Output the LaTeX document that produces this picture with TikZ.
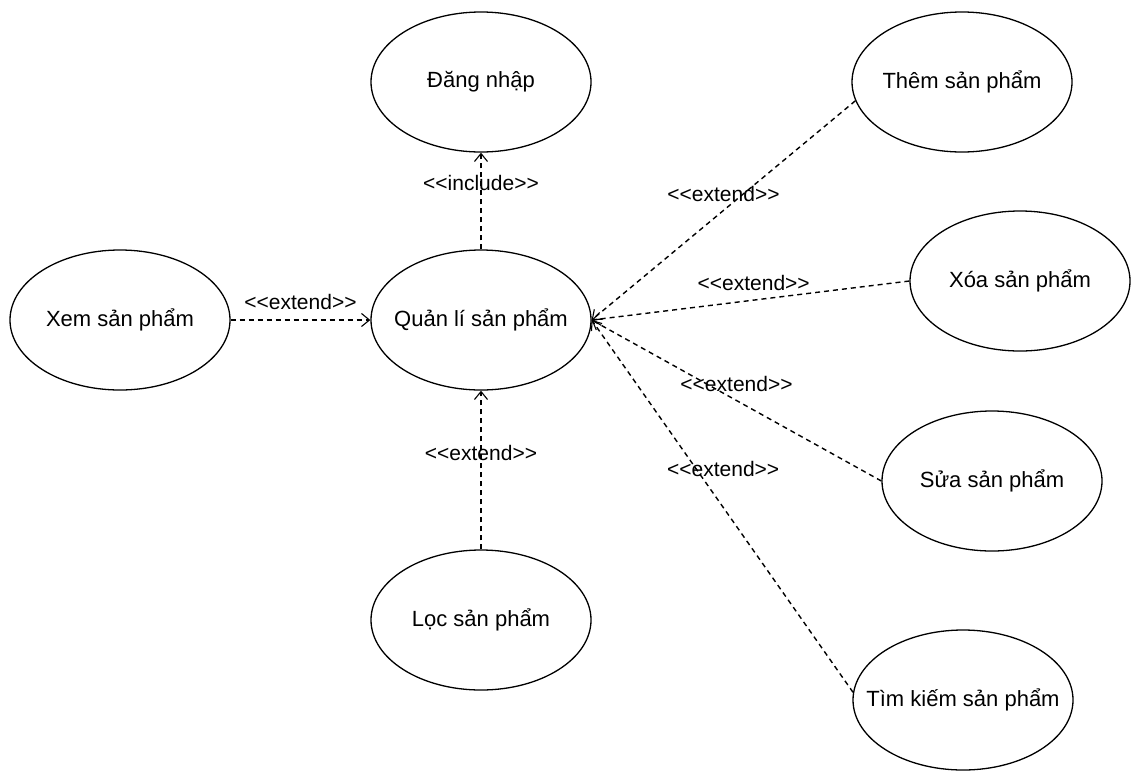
\documentclass[tikz,border=0pt]{standalone}
\usepackage{fontspec}
\setmainfont{Liberation Sans}
\usetikzlibrary{shapes.geometric,arrows.meta}
\begin{document}
\begin{tikzpicture}[x=1pt, y=-1pt,
		uc/.style={draw, ellipse, line width=1.3pt, minimum width=220pt, minimum height=140pt, inner sep=0pt},
		every label/.style={font=\fontsize{22}{26}\selectfont, inner sep=0pt},
		rel/.style={dashed, dash pattern=on 5pt off 4pt, line width=1.4pt, -{Straight Barb[length=8pt, width=13pt, line width=1.1pt]}},
		lbl/.style={font=\fontsize{21}{25}\selectfont, inner sep=1pt}]
		\useasboundingbox (0,0) rectangle (1131,772);
		\node[uc, label=center:Đăng nhập] (dangnhap) at (481,82) {};
		\node[uc, label=center:Quản lí sản phẩm] (quanli) at (481,320) {};
		\node[uc, label=center:Xem sản phẩm] (xem) at (120,320) {};
		\node[uc, label=center:Lọc sản phẩm] (loc) at (481,620) {};
		\node[uc, label=center:Thêm sản phẩm] (them) at (962,82) {};
		\node[uc, label=center:Xóa sản phẩm] (xoa) at (1020,281) {};
		\node[uc, label=center:Sửa sản phẩm] (sua) at (992,481) {};
		\node[uc, label=center:Tìm kiếm sản phẩm] (tim) at (963,700) {};
		% include / extend
		\draw[rel] (quanli.north) -- (dangnhap.south) node[lbl, pos=0.69] (incl) {<{}<include>{}>};
		\draw[rel] (xem.east) -- (quanli.west) node[lbl, midway, yshift=18pt] (extxem) {<{}<extend>{}>};
		\draw[rel] (loc.north) -- (quanli.south) node[lbl, pos=0.61] (extloc) {<{}<extend>{}>};
		\draw[rel] (them.190) -- (quanli.east) node[lbl, pos=0.5, yshift=16pt] (extthem) {<{}<extend>{}>};
		\draw[rel] (xoa.west) -- (quanli.east) node[lbl, pos=0.49, yshift=17pt] (extxoa) {<{}<extend>{}>};
		\draw[rel] (sua.west) -- (quanli.east) node[lbl, pos=0.5, yshift=17pt] (extsua) {<{}<extend>{}>};
		\draw[rel] (tim.176) -- (quanli.east) node[lbl, pos=0.6, xshift=27pt] (exttim) {<{}<extend>{}>};
	\end{tikzpicture}
\end{document}
